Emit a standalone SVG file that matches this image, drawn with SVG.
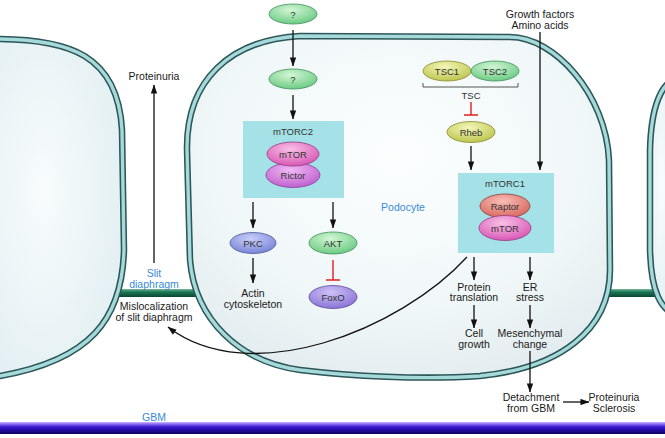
<svg xmlns="http://www.w3.org/2000/svg" width="665" height="438" viewBox="0 0 665 438">
<style>
  text { font-family: "Liberation Sans", Arial, sans-serif; text-anchor: middle; }
  .t { font-size: 10.5px; fill: #1a1a1a; }
  .b { font-size: 10.5px; fill: #3a8ad8; }
  .l { font-size: 9.5px; fill: #333; }
  .ln { stroke: #111; stroke-width: 1.3; fill: none; marker-end: url(#ah); }
  .inh { stroke: #e02020; stroke-width: 1.4; fill: none; }
  .box { fill: #a4e2e7; }
  .cellOut { fill: none; stroke: #2c5658; stroke-width: 6.5; stroke-linejoin: round; }
  .cellIn { fill: none; stroke: #a6d9da; stroke-width: 3.4; stroke-linejoin: round; }
</style>
<defs>
  <marker id="ah" viewBox="0 0 10 7" refX="9.5" refY="3.5" markerWidth="9" markerHeight="6.5" markerUnits="userSpaceOnUse" orient="auto">
    <path d="M0,0 L10,3.5 L0,7 Z" fill="#111"/>
  </marker>
  <radialGradient id="cellFill" cx="0.5" cy="0.35" r="0.75">
    <stop offset="0" stop-color="#fcfefe"/>
    <stop offset="0.6" stop-color="#f0f7f8"/>
    <stop offset="1" stop-color="#dfe9ec"/>
  </radialGradient>
  <radialGradient id="sideFill" cx="0.4" cy="0.45" r="0.7">
    <stop offset="0" stop-color="#f8fcfd"/>
    <stop offset="1" stop-color="#e0eef1"/>
  </radialGradient>
  <linearGradient id="gbm" x1="0" y1="0" x2="0" y2="1">
    <stop offset="0" stop-color="#c8b8ff"/>
    <stop offset="0.18" stop-color="#8a6af2"/>
    <stop offset="0.4" stop-color="#3c1ad2"/>
    <stop offset="0.75" stop-color="#1e0892"/>
    <stop offset="1" stop-color="#12005e"/>
  </linearGradient>
  <linearGradient id="slit" x1="0" y1="0" x2="0" y2="1">
    <stop offset="0" stop-color="#7ab89a"/>
    <stop offset="0.35" stop-color="#1b7a56"/>
    <stop offset="1" stop-color="#0a4632"/>
  </linearGradient>
  <radialGradient id="gGreen" cx="0.45" cy="0.3" r="0.7">
    <stop offset="0" stop-color="#d2f6d4"/>
    <stop offset="1" stop-color="#6ccb84"/>
  </radialGradient>
  <radialGradient id="gPink" cx="0.45" cy="0.3" r="0.7">
    <stop offset="0" stop-color="#f8c0e6"/>
    <stop offset="1" stop-color="#d858b6"/>
  </radialGradient>
  <radialGradient id="gViolet" cx="0.45" cy="0.3" r="0.7">
    <stop offset="0" stop-color="#f0baf4"/>
    <stop offset="1" stop-color="#c060d0"/>
  </radialGradient>
  <radialGradient id="gBlue" cx="0.45" cy="0.3" r="0.7">
    <stop offset="0" stop-color="#c8cef8"/>
    <stop offset="1" stop-color="#7884d8"/>
  </radialGradient>
  <radialGradient id="gPurple" cx="0.45" cy="0.3" r="0.7">
    <stop offset="0" stop-color="#cec2f6"/>
    <stop offset="1" stop-color="#8a74d6"/>
  </radialGradient>
  <radialGradient id="gYellow" cx="0.45" cy="0.3" r="0.7">
    <stop offset="0" stop-color="#f4f6b8"/>
    <stop offset="1" stop-color="#bcc64e"/>
  </radialGradient>
  <radialGradient id="gRed" cx="0.45" cy="0.3" r="0.7">
    <stop offset="0" stop-color="#f8beb6"/>
    <stop offset="1" stop-color="#d8685e"/>
  </radialGradient>
</defs>

<rect width="665" height="438" fill="#ffffff"/>

<!-- Slit diaphragm bars and GBM -->
<g id="slit-bars">
  <rect x="112" y="289" width="84" height="8" fill="url(#slit)"/>
  <rect x="602" y="289" width="56" height="8" fill="url(#slit)"/>
</g>
<g id="gbm">
  <rect x="0" y="422" width="665" height="12" fill="url(#gbm)"/>
  <text class="b" x="154" y="420.5">GBM</text>
</g>

<!-- Cells -->
<g id="cell-left">
  <path d="M-10,39 C70,38 118,55 122,130 L124,250 C122,320 90,360 0,376 L-10,376 Z" fill="url(#sideFill)"/>
  <path class="cellOut" d="M-10,39 C70,38 118,55 122,130 L124,250 C122,320 90,360 0,376 L-10,376"/>
  <path class="cellIn" d="M-10,39 C70,38 118,55 122,130 L124,250 C122,320 90,360 0,376 L-10,376"/>
</g>
<g id="cell-right">
  <path d="M680,78 C660,80 651,110 650,150 L650,250 C651,290 660,312 680,316 Z" fill="url(#sideFill)"/>
  <path class="cellOut" d="M680,78 C660,80 651,110 650,150 L650,250 C651,290 660,312 680,316"/>
  <path class="cellIn" d="M680,78 C660,80 651,110 650,150 L650,250 C651,290 660,312 680,316"/>
</g>
<g id="podocyte">
  <path d="M300,36 L510,37 C555,37 606,95 609,160 L610,270 C610,330 560,368 480,376 C420,380 350,376 300,370 C240,362 195,320 190,260 L187,150 C186,80 230,40 300,36 Z" fill="url(#cellFill)"/>
  <path class="cellOut" d="M300,36 L510,37 C555,37 606,95 609,160 L610,270 C610,330 560,368 480,376 C420,380 350,376 300,370 C240,362 195,320 190,260 L187,150 C186,80 230,40 300,36 Z"/>
  <path class="cellIn" d="M300,36 L510,37 C555,37 606,95 609,160 L610,270 C610,330 560,368 480,376 C420,380 350,376 300,370 C240,362 195,320 190,260 L187,150 C186,80 230,40 300,36 Z"/>
  <text class="b" x="403" y="211">Podocyte</text>
</g>

<!-- Nodes -->
<g id="q1">
  <ellipse cx="293" cy="14" rx="24" ry="10" fill="url(#gGreen)" stroke="#3f8f5a" stroke-width="0.8"/>
  <text class="l" x="293" y="17.5">?</text>
</g>
<g id="q2">
  <ellipse cx="293" cy="79" rx="24" ry="10" fill="url(#gGreen)" stroke="#3f8f5a" stroke-width="0.8"/>
  <text class="l" x="293" y="82.5">?</text>
</g>
<g id="mtorc2">
  <rect class="box" x="243" y="121" width="101" height="77"/>
  <text class="l" x="293" y="134.5">mTORC2</text>
  <ellipse cx="293" cy="175" rx="27" ry="12.5" fill="url(#gViolet)" stroke="#8a3c96" stroke-width="0.8"/>
  <text class="l" x="293" y="178.5">Rictor</text>
  <ellipse cx="293" cy="154" rx="26" ry="12" fill="url(#gPink)" stroke="#963c82" stroke-width="0.8"/>
  <text class="l" x="293" y="157.5">mTOR</text>
</g>
<g id="pkc">
  <ellipse cx="253" cy="243" rx="23" ry="10.5" fill="url(#gBlue)" stroke="#4a5a9a" stroke-width="0.8"/>
  <text class="l" x="253" y="246.5">PKC</text>
</g>
<g id="akt">
  <ellipse cx="333" cy="243" rx="24" ry="11" fill="url(#gGreen)" stroke="#3f8f5a" stroke-width="0.8"/>
  <text class="l" x="333" y="246.5">AKT</text>
</g>
<g id="foxo">
  <ellipse cx="333" cy="297" rx="24" ry="11.5" fill="url(#gPurple)" stroke="#5a4a9a" stroke-width="0.8"/>
  <text class="l" x="333" y="300.5">FoxO</text>
</g>
<g id="actin">
  <text class="t" x="253" y="297">Actin</text>
  <text class="t" x="253" y="308">cytoskeleton</text>
</g>
<g id="tsc">
  <ellipse cx="447" cy="71" rx="24" ry="10" fill="url(#gYellow)" stroke="#8a8a30" stroke-width="0.8"/>
  <text class="l" x="447" y="74.5">TSC1</text>
  <ellipse cx="495" cy="71" rx="24" ry="10" fill="url(#gGreen)" stroke="#3f8f5a" stroke-width="0.8"/>
  <text class="l" x="495" y="74.5">TSC2</text>
  <path d="M423,83 L423,87 L518,87 L518,83" fill="none" stroke="#555" stroke-width="1"/>
  <text class="l" x="471" y="98.5">TSC</text>
</g>
<g id="rheb">
  <ellipse cx="471" cy="132" rx="24" ry="10.5" fill="url(#gYellow)" stroke="#8a8a30" stroke-width="0.8"/>
  <text class="l" x="471" y="135.5">Rheb</text>
</g>
<g id="growth-factors">
  <text class="t" x="540" y="18">Growth factors</text>
  <text class="t" x="540" y="29">Amino acids</text>
</g>
<g id="mtorc1">
  <rect class="box" x="458" y="173" width="96" height="80"/>
  <text class="l" x="505" y="186.5">mTORC1</text>
  <ellipse cx="505" cy="206" rx="25" ry="12" fill="url(#gRed)" stroke="#8a4038" stroke-width="0.8"/>
  <text class="l" x="505" y="209.5">Raptor</text>
  <ellipse cx="505" cy="228" rx="26" ry="12.5" fill="url(#gPink)" stroke="#963c82" stroke-width="0.8"/>
  <text class="l" x="505" y="231.5">mTOR</text>
</g>
<g id="protein-translation">
  <text class="t" x="474" y="290.5">Protein</text>
  <text class="t" x="474" y="301">translation</text>
</g>
<g id="er-stress">
  <text class="t" x="530" y="290.5">ER</text>
  <text class="t" x="530" y="301">stress</text>
</g>
<g id="cell-growth">
  <text class="t" x="474" y="337">Cell</text>
  <text class="t" x="474" y="348">growth</text>
</g>
<g id="mesenchymal">
  <text class="t" x="530" y="337">Mesenchymal</text>
  <text class="t" x="530" y="348">change</text>
</g>
<g id="detachment">
  <text class="t" x="531" y="401">Detachment</text>
  <text class="t" x="531" y="412">from GBM</text>
</g>
<g id="proteinuria-sclerosis">
  <text class="t" x="614" y="401">Proteinuria</text>
  <text class="t" x="614" y="412">Sclerosis</text>
</g>
<g id="proteinuria-top">
  <text class="t" x="154" y="80">Proteinuria</text>
</g>
<g id="slit-label">
  <text class="b" x="154" y="276.5">Slit</text>
  <text class="b" x="154" y="287.5">diaphragm</text>
</g>
<g id="mislocalization">
  <text class="t" x="154" y="310">Mislocalization</text>
  <text class="t" x="154" y="321">of slit diaphragm</text>
</g>

<!-- Connectors -->
<g id="connectors">
  <path class="ln" d="M293,30 L293,66"/>
  <path class="ln" d="M293,95 L293,119"/>
  <path class="ln" d="M253,202 L253,228"/>
  <path class="ln" d="M333,202 L333,228"/>
  <path class="ln" d="M253,258 L253,283"/>
  <path class="inh" d="M333,260 L333,280 M326,280 L340,280"/>
  <path class="inh" d="M471,102 L471,115 M464,115 L478,115"/>
  <path class="ln" d="M471,146 L471,170"/>
  <path class="ln" d="M540,32 L540,170"/>
  <path class="ln" d="M474,257 L474,280"/>
  <path class="ln" d="M530,257 L530,280"/>
  <path class="ln" d="M474,305 L474,328"/>
  <path class="ln" d="M530,305 L530,328"/>
  <path class="ln" d="M530,351 L530,392"/>
  <path class="ln" d="M563,402 L589,402"/>
  <path class="ln" d="M154,263 L154,85"/>
  <path class="ln" d="M467,257 C400,330 250,390 168,327"/>
</g>
</svg>
